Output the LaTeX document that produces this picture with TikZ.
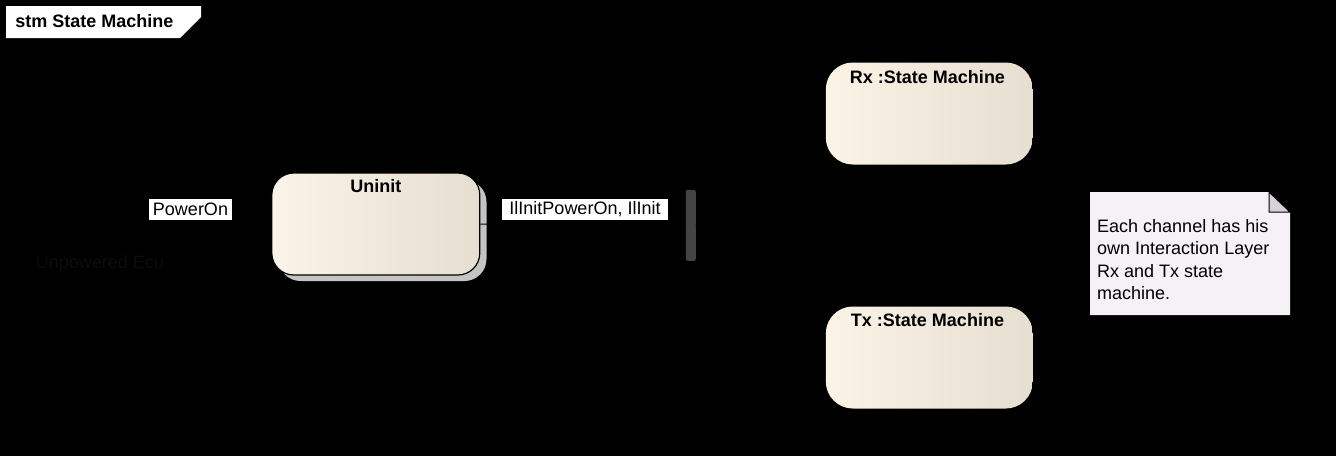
\documentclass[tikz,border=0pt]{standalone}
\usepackage{fontspec}
\setmainfont{Liberation Sans}
\usetikzlibrary{arrows.meta}
\definecolor{stateL}{HTML}{FBF4E6}
\definecolor{stateR}{HTML}{E6DED0}
\definecolor{notefill}{HTML}{F6F1F6}
\definecolor{foldfill}{HTML}{D6D2DA}
\definecolor{shadowgray}{HTML}{C4C4C4}
\definecolor{forkgray}{HTML}{444444}
\definecolor{faint}{HTML}{0C0C0C}
\tikzset{
  statebox/.style={draw=black, line width=1.2pt, left color=stateL, right color=stateR, inner sep=0pt},
  titletext/.style={anchor=base, inner sep=0pt, font=\fontsize{18}{21}\selectfont\bfseries},
  plaintext/.style={inner sep=0pt, font=\fontsize{18}{21}\selectfont},
  edgelabel/.style={fill=white, inner xsep=0pt, inner ysep=0pt, font=\fontsize{18}{21}\selectfont, minimum height=21pt},
  trans/.style={draw=black, line width=1pt, -{Straight Barb[length=8pt,width=10pt]}},
}
\begin{document}
\begin{tikzpicture}[x=1pt,y=-1pt]
\useasboundingbox (0,0) rectangle (1336,456);
\fill[black] (0,0) rectangle (1336,456);
% frame
\draw[black, line width=1pt] (2,2) rectangle (1334,454);
\fill[white] (6,6) -- (201,6) -- (201,17) -- (180,38) -- (6,38) -- cycle;
\node[titletext] (frametitle) at (94.5,27.3) {stm State Machine};

% initial pseudostate
\node[circle, fill=black, minimum size=16pt, inner sep=0pt] (init) at (100,224) {};
\node[plaintext, anchor=base, text=faint] (initname) at (100,268) {Unpowered Ecu};

% Uninit state with shadow
\fill[shadowgray, rounded corners=22pt] (278.5,180) rectangle (486.5,281);
\node[statebox, rounded corners=22pt, minimum width=208pt, minimum height=102pt] (uninit) at (375.8,224) {};
\node[titletext] (uninitT) at (375.8,192.7) {Uninit};

% fork bar
\node[fill=forkgray, rounded corners=2pt, minimum width=10pt, minimum height=71pt, inner sep=0pt] (fork) at (690.8,225.3) {};

% Rx / Tx submachine states
\node[statebox, draw=none, rounded corners=27pt, minimum width=207pt, minimum height=102pt] (rx) at (929.3,113.5) {};
\node[titletext] (rxT) at (927.5,83.3) {Rx :State Machine};
\node[statebox, draw=none, rounded corners=27pt, minimum width=207pt, minimum height=102pt] (tx) at (929.3,357.5) {};
\node[titletext] (txT) at (927.5,326.7) {Tx :State Machine};

% transitions (black on black)
\draw[trans] (init) -- (uninit.west);
\draw[trans] (uninit.east) -- (fork.west);
\draw[trans] (fork.east) -- (rx.west);
\draw[trans] (fork.east) -- (tx.west);

% transition labels
\node[edgelabel, minimum width=83pt] (lblPower) at (190.5,209.5) {PowerOn};
\node[edgelabel, minimum width=166pt] (lblInit) at (585,209.5) {IlInitPowerOn, IlInit};

% note
\fill[notefill] (1090,192) -- (1269,192) -- (1290,212) -- (1290,315) -- (1090,315) -- cycle;
\filldraw[fill=foldfill, draw=black, line width=1pt] (1269,192) -- (1269,212) -- (1290,212) -- cycle;
\node[plaintext, anchor=base west] (noteText) at (1097,232) {Each channel has his};
\node[plaintext, anchor=base west] (noteText2) at (1097,254.5) {own Interaction Layer};
\node[plaintext, anchor=base west] (noteText3) at (1097,277) {Rx and Tx state};
\node[plaintext, anchor=base west] (noteText4) at (1097,299.5) {machine.};
\end{tikzpicture}
\end{document}
